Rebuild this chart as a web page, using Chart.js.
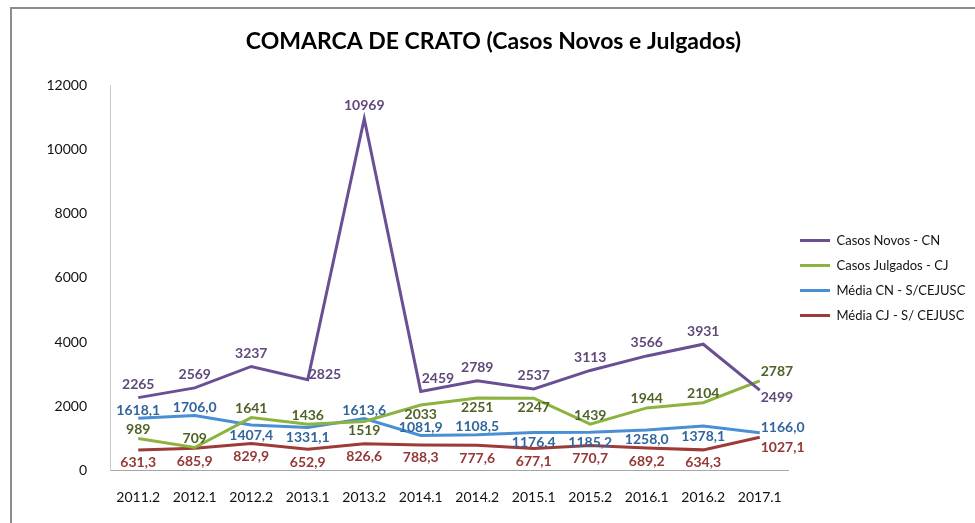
<!DOCTYPE html>
<html>
<head>
<meta charset="utf-8">
<script src="https://cdn.jsdelivr.net/npm/chart.js@4/dist/chart.umd.min.js"></script>
<style>
  body { margin: 0; background: #fff; }
  #frame {
    position: absolute; left: 10px; top: 7px;
    border-left: 2px solid #8c8c8c; border-top: 2px solid #8c8c8c;
  }
  canvas { display: block; }
</style>
</head>
<body>
<div id="frame"><canvas id="chart" width="963" height="514"></canvas></div>
<script>
// semesters
const periods = ['2011.2', '2012.1', '2012.2', '2013.1', '2013.2', '2014.1',
                 '2014.2', '2015.1', '2015.2', '2016.1', '2016.2', '2017.1'];

const casosNovos    = [2265, 2569, 3237, 2825, 10969, 2459, 2789, 2537, 3113, 3566, 3931, 2499];
const casosJulgados = [989, 709, 1641, 1436, 1519, 2033, 2251, 2247, 1439, 1944, 2104, 2787];
const mediaCN       = [1618.1, 1706.0, 1407.4, 1331.1, 1613.6, 1081.9, 1108.5, 1176.4, 1185.2, 1258.0, 1378.1, 1166.0];
const mediaCJ       = [631.3, 685.9, 829.9, 652.9, 826.6, 788.3, 777.6, 677.1, 770.7, 689.2, 634.3, 1027.1];

const yTicks = [0, 2000, 4000, 6000, 8000, 10000, 12000];

// where each data label sits: a = above, b = below, r = right, ar / br = right and up / down
const placeCN = ['a', 'a', 'a', 'r', 'a', 'ar', 'a', 'a', 'a', 'a', 'a', 'br'];
const placeCJ = ['a', 'a', 'a', 'a', 'b', 'b', 'b', 'b', 'a', 'a', 'a', 'ar'];
const placeMCN = ['a', 'a', 'b', 'b', 'a', 'a', 'a', 'b', 'b', 'b', 'b', 'r'];
const placeMCJ = ['b', 'b', 'b', 'b', 'b', 'b', 'b', 'b', 'b', 'b', 'b', 'br'];

const fmt = (v, dec) => v.toFixed(dec).replace('.', ',');

const dataLabels = {
  id: 'dataLabels',
  afterDatasetsDraw(chart) {
    const ctx = chart.ctx;
    ctx.save();
    ctx.font = 'bold 14px Lato';
    ctx.textBaseline = 'middle';
    chart.data.datasets.forEach((ds, di) => {
      const meta = chart.getDatasetMeta(di);
      const [up, down] = ds.gap;
      ctx.fillStyle = ds.labelColor;
      meta.data.forEach((pt, i) => {
        const txt = fmt(ds.data[i], ds.decimals);
        const p = ds.place[i];
        let x = pt.x, y = pt.y;
        ctx.textAlign = 'center';
        if (p === 'a') y -= up;
        else if (p === 'b') y += down;
        else {
          ctx.textAlign = 'left';
          x += 1;
          if (p === 'ar') y -= up;
          if (p === 'br') y += down - 3;
          if (p === 'r') y -= 5;
        }
        ctx.fillText(txt, x, y);
      });
    });
    ctx.restore();
  }
};

function series(label, data, line, text, dec, place, gap) {
  return {
    label, data,
    borderColor: line, backgroundColor: line,
    borderWidth: 3, pointRadius: 0, tension: 0,
    labelColor: text, decimals: dec, place, gap
  };
}

new Chart(document.getElementById('chart'), {
  type: 'line',
  data: {
    labels: periods,
    datasets: [
      series('Casos Novos - CN', casosNovos, '#6b4f95', '#60497a', 0, placeCN, [13, 10]),
      series('Casos Julgados - CJ', casosJulgados, '#8cb33f', '#4f6228', 0, placeCJ, [9, 9]),
      series('Média CN - S/CEJUSC', mediaCN, '#4a8fd6', '#31659c', 1, placeMCN, [8, 10]),
      series('Média CJ - S/ CEJUSC', mediaCJ, '#9e3a38', '#953735', 1, placeMCJ, [10, 13])
    ]
  },
  options: {
    responsive: false,
    animation: false,
    layout: { padding: { left: 0, right: 0, bottom: 6 } },
    plugins: {
      title: {
        display: true,
        text: 'COMARCA DE CRATO (Casos Novos e Julgados)',
        color: '#000',
        font: { family: 'Lato', size: 23, weight: 'bold' },
        padding: { top: 19, bottom: 30 }
      },
      legend: {
        position: 'right',
        fullSize: false,
        maxWidth: 187,
        labels: {
          usePointStyle: true, pointStyle: 'line', pointStyleWidth: 30,
          padding: 12, color: '#111',
          font: { family: 'Lato', size: 13 }
        }
      },
      tooltip: { enabled: false }
    },
    scales: {
      x: {
        offset: true,
        grid: { display: false },
        border: { color: '#a6a6a6' },
        ticks: { color: '#111', padding: 11, font: { family: 'Lato', size: 14 } }
      },
      y: {
        min: 0, max: 12000,
        afterBuildTicks: s => { s.ticks = yTicks.map(v => ({ value: v })); },
        afterFit: s => { s.width = 98; },
        grid: { display: false },
        border: { color: '#c8c8c8' },
        ticks: { color: '#111', padding: 15, font: { family: 'Lato', size: 14 },
                 callback: v => String(v) }
      }
    }
  },
  plugins: [dataLabels]
});
</script>
</body>
</html>
